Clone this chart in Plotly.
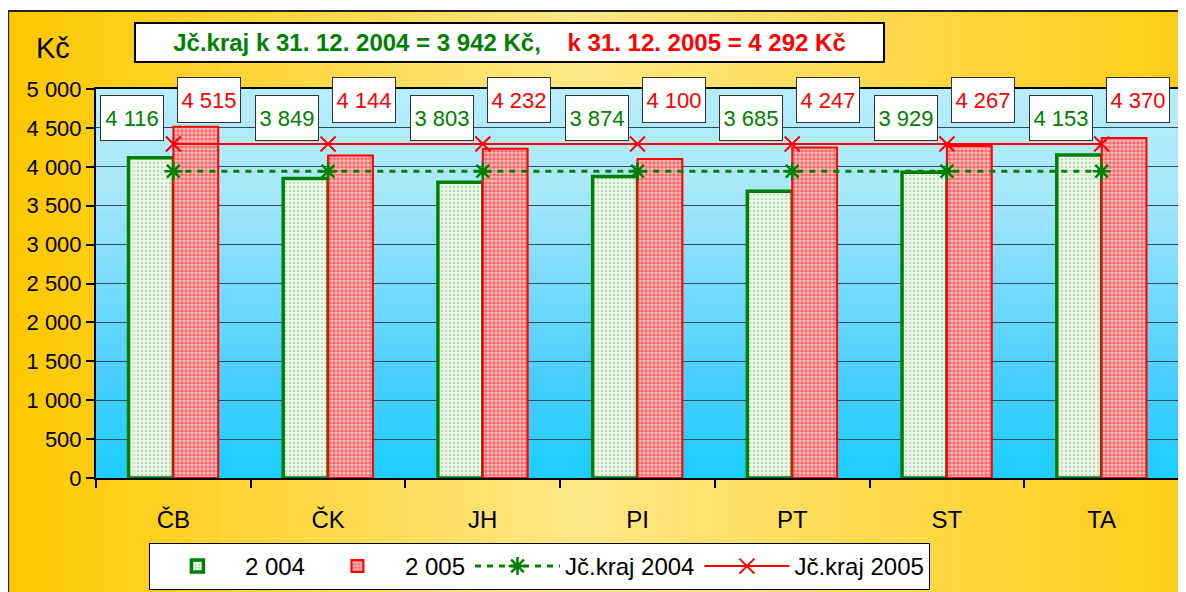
import plotly.graph_objects as go

# ── data ─────────────────────────────────────────────
okresy = ['ČB', 'ČK', 'JH', 'PI', 'PT', 'ST', 'TA']
val_2004 = [4116, 3849, 3803, 3874, 3685, 3929, 4153]
val_2005 = [4515, 4144, 4232, 4100, 4247, 4267, 4370]
kraj_2004 = 3942
kraj_2005 = 4292

# page has an 8px body margin, so work in window pixels and shift
OFF = 8
W, H = 1180, 610
ML, MT = 96 - OFF, 89 - OFF
PW, PH = 1085, 389
MR = W - ML - PW
MB = H - MT - PH


def fmt(v):
    return f'{v:,}'.replace(',', ' ')


def px2paper_x(px):
    return (px - OFF - ML) / PW


def px2paper_y(py):
    return (MT + PH - (py - OFF)) / PH


def lerp_stops(stops, t):
    for (t0, c0), (t1, c1) in zip(stops, stops[1:]):
        if t0 <= t <= t1:
            f = 0 if t1 == t0 else (t - t0) / (t1 - t0)
            c = [round(a + (b - a) * f) for a, b in zip(c0, c1)]
            return f'rgb({c[0]},{c[1]},{c[2]})'
    c = stops[-1][1]
    return f'rgb({c[0]},{c[1]},{c[2]})'


shapes = []

# yellow/orange gradient of the chart area (left -> right)
paper_stops = [(0.0, (255, 200, 0)), (0.48, (255, 231, 135)), (1.0, (255, 204, 20))]
n = 90
x0, x1 = 8, 1200
for i in range(n):
    a = x0 + (x1 - x0) * i / n
    b = x0 + (x1 - x0) * (i + 1) / n + 1
    shapes.append(dict(type='rect', xref='paper', yref='paper', layer='below',
                       x0=px2paper_x(a), x1=px2paper_x(b),
                       y0=px2paper_y(630), y1=px2paper_y(11),
                       line=dict(width=0), fillcolor=lerp_stops(paper_stops, i / (n - 1))))
shapes.append(dict(type='rect', xref='paper', yref='paper', layer='below',
                   x0=px2paper_x(8), x1=px2paper_x(1210),
                   y0=px2paper_y(640), y1=px2paper_y(11),
                   line=dict(color='#222222', width=2), fillcolor='rgba(0,0,0,0)'))

# blue gradient of the plot area (top -> bottom)
plot_stops = [(0.0, (182, 237, 250)), (0.25, (168, 232, 250)), (0.75, (72, 206, 255)), (1.0, (28, 206, 255))]
m = 60
for i in range(m):
    shapes.append(dict(type='rect', xref='x domain', yref='y domain', layer='below',
                       x0=0, x1=1, y0=1 - (i + 1) / m - 0.002, y1=1 - i / m,
                       line=dict(width=0), fillcolor=lerp_stops(plot_stops, i / (m - 1))))

fig = go.Figure()

fig.add_trace(go.Bar(
    name='2 004', x=okresy, y=val_2004,
    marker=dict(color='#e6f3e3', line=dict(color='#008000', width=3.5),
                pattern=dict(shape='.', fgcolor='#8cc48c', bgcolor='#eef7ec', size=4, solidity=0.35)),
))
fig.add_trace(go.Bar(
    name='2 005', x=okresy, y=val_2005,
    marker=dict(color='#ff6060', line=dict(color='#ff0000', width=2),
                pattern=dict(shape='.', fgcolor='#ff0000', bgcolor='#ffcaca', size=4, solidity=0.6)),
))
fig.add_trace(go.Scatter(
    name='Jč.kraj 2004', x=okresy, y=[kraj_2004] * len(okresy), mode='lines+markers',
    line=dict(color='#008000', width=3, dash='6px,6px'),
    marker=dict(symbol='asterisk-open', size=15, color='#008000', line=dict(color='#008000', width=2.5)),
))
fig.add_trace(go.Scatter(
    name='Jč.kraj 2005', x=okresy, y=[kraj_2005] * len(okresy), mode='lines+markers',
    line=dict(color='#ff0000', width=2),
    marker=dict(symbol='x-thin-open', size=15, color='#ff0000', line=dict(color='#ff0000', width=2)),
))

annotations = []
for o, v in zip(okresy, val_2004):
    annotations.append(dict(x=o, y=4630, xref='x', yref='y', text=fmt(v), showarrow=False,
                            xshift=-41, font=dict(size=22, color='#008000'),
                            bgcolor='white', bordercolor='#333333', borderwidth=1,
                            width=60, height=42, borderpad=1))
for o, v in zip(okresy, val_2005):
    annotations.append(dict(x=o, y=4860, xref='x', yref='y', text=fmt(v), showarrow=False,
                            xshift=36, font=dict(size=22, color='#ff0000'),
                            bgcolor='white', bordercolor='#333333', borderwidth=1,
                            width=60, height=42, borderpad=1))

# title box
title_txt = ('<b><span style="color:#008000">Jč.kraj k 31. 12. 2004 = ' + fmt(kraj_2004) + ' Kč,</span>'
             + '\u00a0' * 4
             + '<span style="color:#ff0000">k 31. 12. 2005 = ' + fmt(kraj_2005) + ' Kč</span></b>')
annotations.append(dict(x=px2paper_x(510), y=px2paper_y(42), xref='paper', yref='paper',
                        xanchor='center', yanchor='middle',
                        text=title_txt, showarrow=False, font=dict(size=24),
                        bgcolor='white', bordercolor='black', borderwidth=2,
                        width=745, height=35, borderpad=1))
annotations.append(dict(x=px2paper_x(53), y=px2paper_y(48), xref='paper', yref='paper',
                        xanchor='center', yanchor='middle',
                        text='Kč', showarrow=False, font=dict(size=29, color='black')))

fig.update_layout(
    width=W, height=H,
    margin=dict(l=ML, r=MR, t=MT, b=MB),
    paper_bgcolor='white',
    plot_bgcolor='rgba(0,0,0,0)',
    font=dict(family='Arial, Liberation Sans, sans-serif', color='black', size=22),
    separators=', ',
    barmode='group', bargap=0.42, bargroupgap=0,
    shapes=shapes,
    annotations=annotations,
    xaxis=dict(showgrid=False, showline=True, linecolor='black', linewidth=2, mirror=True,
               ticks='outside', tickson='boundaries', ticklen=8, tickcolor='black', tickwidth=2,
               ticklabelstandoff=19, tickfont=dict(size=24)),
    yaxis=dict(range=[0, 5000], dtick=500, tickformat=',d',
               showgrid=True, gridcolor='#2f4f5f', gridwidth=1,
               showline=True, linecolor='black', linewidth=2, mirror=True,
               ticks='outside', ticklen=8, tickcolor='black', tickwidth=2,
               tickfont=dict(size=22), zeroline=False),
    legend=dict(orientation='h', x=px2paper_x(149), y=px2paper_y(543),
                xanchor='left', yanchor='top',
                bgcolor='white', bordercolor='black', borderwidth=1,
                font=dict(size=24), itemwidth=85,
                traceorder='normal'),
)

fig.write_html('out.html')
